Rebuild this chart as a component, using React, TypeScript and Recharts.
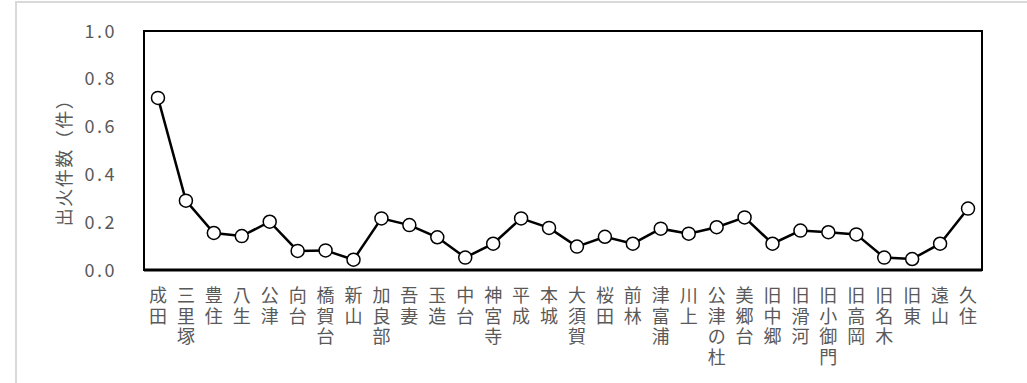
import React from "react";
import { LineChart, Line, XAxis, YAxis, ReferenceArea, ReferenceLine } from "recharts";

const categories = [
  "成田", "三里塚", "豊住", "八生", "公津", "向台", "橋賀台", "新山", "加良部", "吾妻",
  "玉造", "中台", "神宮寺", "平成", "本城", "大須賀", "桜田", "前林", "津富浦", "川上",
  "公津の杜", "美郷台", "旧中郷", "旧滑河", "旧小御門", "旧高岡", "旧名木", "旧東", "遠山", "久住",
];
const values = [
  0.72, 0.29, 0.155, 0.142, 0.202, 0.08, 0.082, 0.043, 0.216, 0.188,
  0.137, 0.052, 0.11, 0.216, 0.176, 0.098, 0.139, 0.11, 0.173, 0.152,
  0.179, 0.22, 0.11, 0.165, 0.158, 0.149, 0.052, 0.046, 0.11, 0.257,
];
const yTicks = [0, 0.2, 0.4, 0.6, 0.8, 1.0];
const yLabel = "出火件数（件）";

const data = categories.map((name, i) => ({ name, value: values[i] }));

const GRAY = "#595959";
const FONT = "'Noto Sans CJK JP', 'Noto Sans', sans-serif";

const XTick = (props: any) => {
  const { x, payload } = props;
  const chars = Array.from(String(payload.value));
  return (
    <text x={x} y={302} textAnchor="middle" fill={GRAY} fontSize={18} fontFamily={FONT}>
      {chars.map((c, i) => (
        <tspan key={i} x={x} dy={i === 0 ? 0 : 20.5}>
          {c}
        </tspan>
      ))}
    </text>
  );
};

const YTick = (props: any) => {
  const { y, payload } = props;
  return (
    <text x={117} y={y} dy={6.5} textAnchor="end" fill={GRAY} fontSize={18} fontFamily={FONT} letterSpacing={2.5}>
      {Number(payload.value).toFixed(1)}
    </text>
  );
};

const YLabel = () => (
  <text
    x={63}
    y={158}
    transform="rotate(-90 63 158)"
    textAnchor="middle"
    dominantBaseline="central"
    fill={GRAY}
    fontSize={18}
    fontFamily={FONT}
    letterSpacing={1.5}
  >
    {yLabel}
  </text>
);

export default function App() {
  return (
    <div style={{ position: "absolute", left: 0, top: 0, width: 1027, height: 383, overflow: "hidden", background: "#fff" }}>
      <div
        style={{
          position: "absolute",
          left: 15,
          top: 1,
          width: 1100,
          height: 500,
          border: "2px solid #d9d9d9",
          boxSizing: "border-box",
        }}
      />
      <div style={{ position: "absolute", left: 0, top: 0 }}>
        <LineChart width={1027} height={383} data={data} margin={{ top: 31, right: 45, bottom: 13, left: 44 }}>
          <XAxis
            dataKey="name"
            scale="band"
            height={100}
            interval={0}
            tick={<XTick />}
            tickLine={false}
            axisLine={false}
          />
          <YAxis
            width={100}
            domain={[0, 1]}
            ticks={yTicks}
            tick={<YTick />}
            tickLine={false}
            axisLine={false}
            label={<YLabel />}
          />
          <ReferenceArea y1={0} y2={1} fill="none" stroke="#000" strokeWidth={2} ifOverflow="visible" />
          <ReferenceLine y={0} stroke="#000" strokeWidth={3} ifOverflow="visible" />
          <Line
            dataKey="value"
            stroke="#000"
            strokeWidth={2.5}
            isAnimationActive={false}
            dot={{ r: 6.5, fill: "#fff", stroke: "#000", strokeWidth: 1.5 }}
          />
        </LineChart>
      </div>
    </div>
  );
}
